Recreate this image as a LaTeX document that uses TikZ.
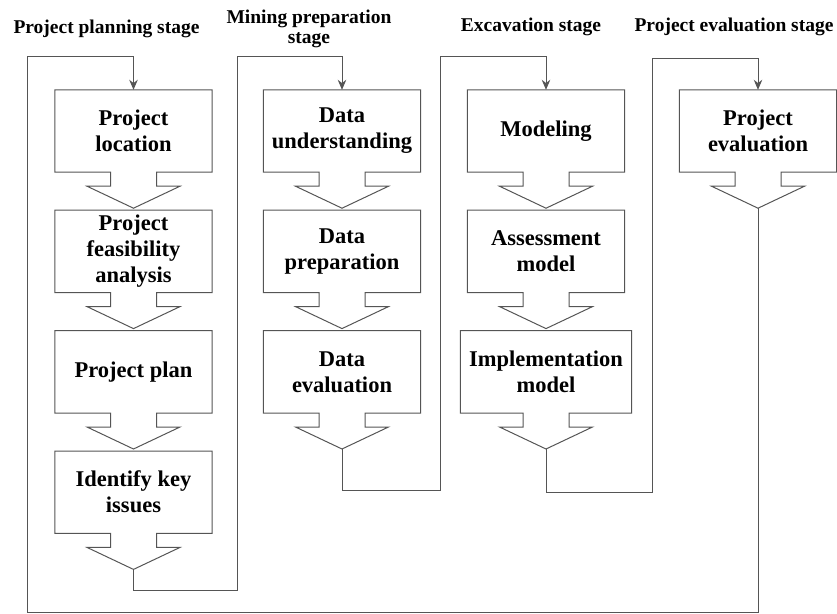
\documentclass[tikz,border=0pt]{standalone}
\usepackage{fontspec}
\setmainfont{Liberation Serif}
\usetikzlibrary{arrows.meta,calc,positioning}

\definecolor{linegray}{RGB}{85,85,85}

% box with a down-pointing chevron underneath, tip saved as <name>-tip
\newcommand{\chevronbox}[1]{%
    \draw[outline] (#1.north west) -- (#1.north east) -- (#1.south east)
        -- ($(#1.south)+(23,0)$) -- ++(0,14) -- ++(23.5,0)
        -- ($(#1.south)+(0,36)$) coordinate (#1-tip)
        -- ($(#1.south)+(-46.5,14)$) -- ++(23.5,0) -- ++(0,-14)
        -- (#1.south west) -- cycle;}

\begin{document}
\begin{tikzpicture}[x=1pt,y=-1pt,>={Stealth[length=10pt,width=8.5pt]}]
%   planning        preparation      excavation       evaluation
%   location        understanding    modeling         evaluation --+
%   feasibility     preparation      assessment                    |
%   plan            evaluation --+   implementation --+            |
%   issues --+      ^            |   ^                |            |
%            +------+            +---+                +---> ...    |
%   ^-------------------------------------------------------------+
    \useasboundingbox (0,0) rectangle (837,613);
    \tikzstyle{phase}=[minimum width=157pt, minimum height=82pt, inner sep=0pt,
        align=center, node distance=38pt,
        font=\fontsize{22.5}{26}\selectfont\bfseries]
    \tikzstyle{stage}=[align=center, inner sep=0pt,
        font=\fontsize{19.5}{20}\selectfont\bfseries]
    \tikzstyle{outline}=[draw=linegray, line width=1pt]
    \tikzstyle{link}=[draw=linegray, line width=1pt, ->]

    % Stage titles
    \node[stage, anchor=base] (planning) at (106.5,33) {Project planning stage};
    \node[stage] (preparation) at (309,29) {Mining preparation\\stage};
    \node[stage, anchor=base] (excavation) at (531,31.7) {Excavation stage};
    \node[stage, anchor=base] (evaluation) at (734,31.7) {Project evaluation stage};

    % Project planning stage
    \node[phase] (loc) at (133.5,131) {Project\\location};
    \node[phase, below=of loc] (feas) {Project\\feasibility\\analysis};
    \node[phase, below=of feas] (plan) {Project plan};
    \node[phase, below=of plan] (issues) {Identify key\\issues};

    % Mining preparation stage
    \node[phase] (dund) at (342,131) {Data\\understanding};
    \node[phase, below=of dund] (dprep) {Data\\preparation};
    \node[phase, below=of dprep] (deval) {Data\\evaluation};

    % Excavation stage
    \node[phase] (model) at (546,131) {Modeling};
    \node[phase, below=of model] (assess) {Assessment\\model};
    \node[phase, below=of assess, minimum width=171pt] (impl) {Implementation\\model};

    % Project evaluation stage
    \node[phase] (peval) at (758,131) {Project\\evaluation};

    \foreach \n in {loc,feas,plan,issues,dund,dprep,deval,model,assess,impl,peval}
        {\chevronbox{\n}}

    \draw[link] (issues-tip) |- (237,590.5) |- ([yshift=33pt]dund.north) -- (dund.north);
    \draw[link] (deval-tip) |- (440.5,490) |- ([yshift=33pt]model.north) -- (model.north);
    \draw[link] (impl-tip) |- (652,492) |- ([yshift=31pt]peval.north) -- (peval.north);
    \draw[link] (peval-tip) |- (27.5,612) |- ([yshift=33pt]loc.north) -- (loc.north);
\end{tikzpicture}
\end{document}
